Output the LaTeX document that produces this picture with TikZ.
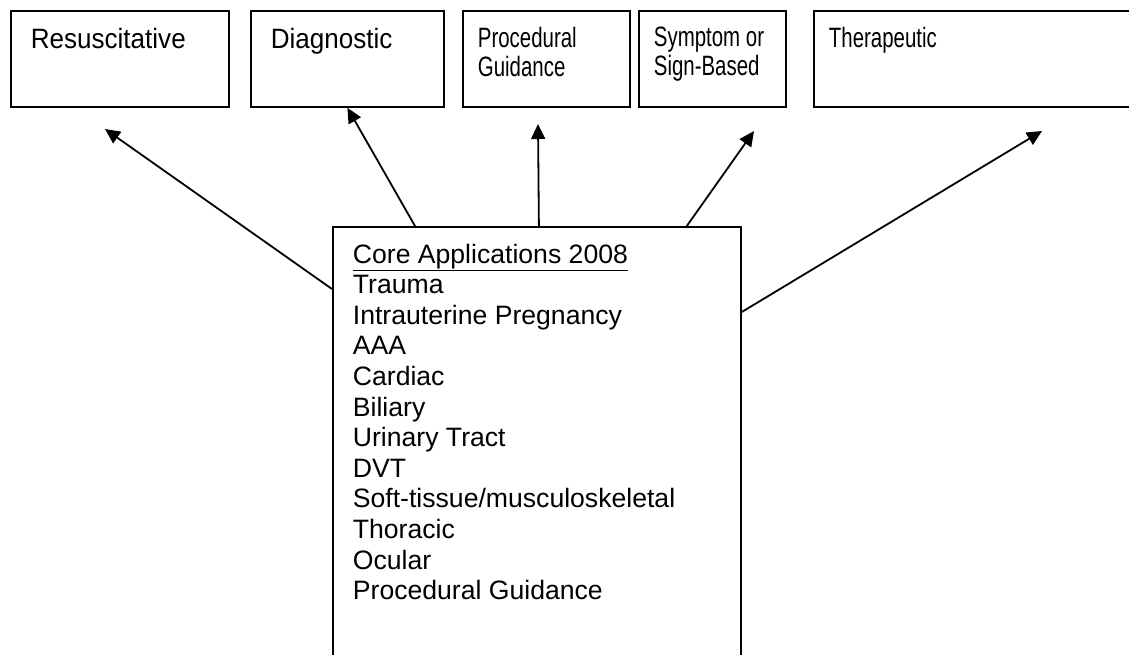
\documentclass[tikz,border=0pt]{standalone}
\usepackage{fontspec}
\setmainfont{Liberation Sans}
\newfontfamily\condfont[FakeStretch=0.73]{Liberation Sans}
\newfontfamily\wideoff[FakeStretch=0.93]{Liberation Sans}
\usetikzlibrary{arrows.meta, positioning, calc}

% text of a box, held at its top left corner
\newcommand{\celltext}[3]{\parbox[c][#2][t]{#1}{#3}}

\begin{document}
\begin{tikzpicture}[x=1pt, y=-1pt,
    % Styles
    category/.style={% For the boxes in the top row
        rectangle,
        draw,
        line width=1.8pt,
        anchor=north west,
        inner xsep=20pt,
        inner ysep=17pt,
        },
    wideface/.style={% first two boxes
        font=\wideoff\fontsize{28}{32}\selectfont,
        },
    narrowface/.style={% last three boxes
        font=\condfont\fontsize{28}{29}\selectfont,
        inner xsep=15pt,
        inner ysep=16pt,
        },
    core/.style={% For the list of core applications
        rectangle,
        draw,
        line width=1.8pt,
        anchor=north west,
        inner xsep=20pt,
        inner ysep=17pt,
        font=\fontsize{26.6}{30.6}\selectfont,
        },
    ArrowUp/.style={% Arrows to the categories
        line width=1.8pt,
        -{Triangle[length=15pt,width=14pt]},
        },
    ]

    \clip (0,0) rectangle (1129,654);

    % Draw the categories:
    \node [category, wideface] (resus) at (10,10)
        {\celltext{178pt}{62pt}{Resuscitative}};
    \node [category, wideface] (diag) at (250,10)
        {\celltext{153pt}{62pt}{Diagnostic}};
    \node [category, narrowface] (proc) at (462,10)
        {\celltext{137pt}{64pt}{Procedural\\Guidance}};
    \node [category, narrowface] (sign) at (638,10)
        {\celltext{117pt}{64pt}{Symptom or\\Sign-Based}};
    \node [category, narrowface] (thera) at (813,10)
        {\celltext{310pt}{64pt}{Therapeutic}};

    % Draw the core list
    \node [core] (list) at (332,226)
        {\celltext{368pt}{440pt}{\underline{Core Applications 2008}\\
        Trauma\\
        Intrauterine Pregnancy\\
        AAA\\
        Cardiac\\
        Biliary\\
        Urinary Tract\\
        DVT\\
        Soft-tissue/musculoskeletal\\
        Thoracic\\
        Ocular\\
        Procedural Guidance}};

    % free ends of the arrows
    \coordinate (resusTip) at (105,129);
    \coordinate (procTip) at (538,124);
    \coordinate (signTip) at (754,131);
    \coordinate (theraTip) at (1042,131);

    % Draw Arrows
    \draw [ArrowUp] ($(list.north west)+(0,63)$) -- (resusTip);
    \draw [ArrowUp] ($(list.north west)+(83,0)$) -- (diag.south);
    \draw [ArrowUp] ($(list.north)+(2,0)$) -- (procTip);
    \draw [ArrowUp] ($(list.north east)+(-55,0)$) -- (signTip);
    \draw [ArrowUp] ($(list.north east)+(0,86)$) -- (theraTip);

\end{tikzpicture}
\end{document}
